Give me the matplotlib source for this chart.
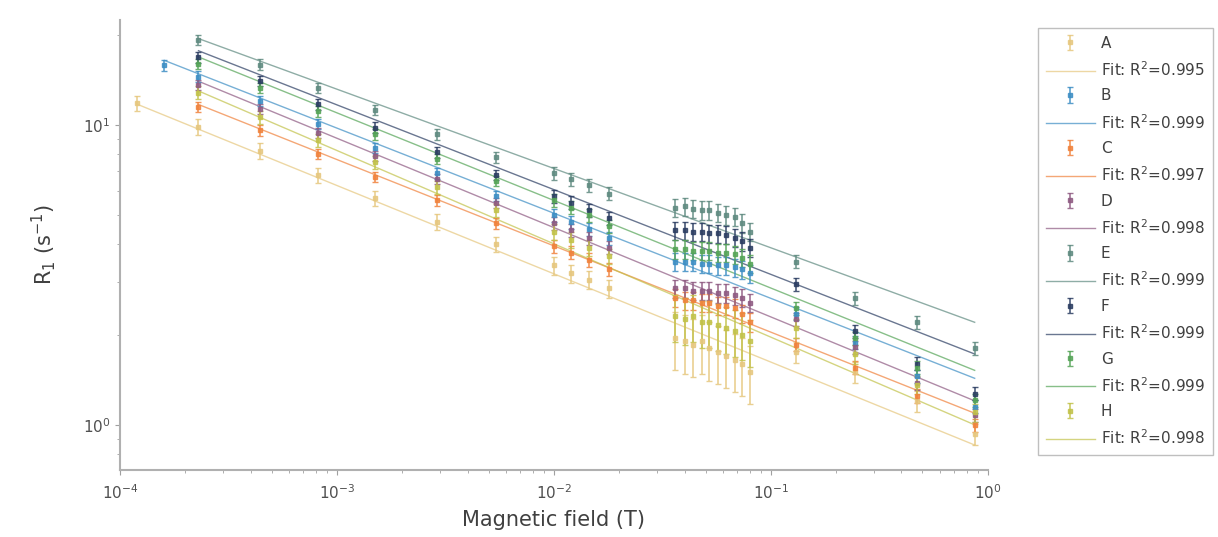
import numpy as np
import matplotlib
matplotlib.use("Agg")
import matplotlib.pyplot as plt

# ---------------- data ----------------
series_names = ["A", "B", "C", "D", "E", "F", "G", "H"]
r2_values = ["0.995", "0.999", "0.997", "0.998", "0.999", "0.999", "0.999", "0.998"]
colors = ["#e6c77e", "#3d8ec4", "#f0823c", "#8e5a82", "#5f8a80", "#2b3d62", "#55a457", "#c2c24a"]

field_lo = [2.3e-4, 4.4e-4, 8.2e-4, 1.5e-3, 2.9e-3, 5.4e-3]
field_mid = [1.0e-2, 1.2e-2, 1.45e-2, 1.8e-2]
field_dense = [0.036, 0.040, 0.044, 0.048, 0.052, 0.057, 0.062, 0.068, 0.074, 0.080]
field_hi = [0.13, 0.245, 0.47, 0.87]

# extra low-field points (series -> (field, value))
extra_field = {"A": 1.2e-4, "B": 1.6e-4}
extra_value = {"A": 11.8, "B": 15.8}

r1_A = [9.85, 8.2, 6.8, 5.7, 4.75, 4.0,
        3.4, 3.2, 3.05, 2.85,
        1.95, 1.9, 1.85, 1.9, 1.8, 1.75, 1.7, 1.65, 1.6, 1.5,
        1.75, 1.5, 1.2, 0.93]
r1_B = [14.5, 12.0, 10.1, 8.4, 6.9, 5.8,
        5.0, 4.75, 4.5, 4.2,
        3.5, 3.5, 3.5, 3.45, 3.45, 3.4, 3.4, 3.35, 3.3, 3.2,
        2.35, 1.88, 1.45, 1.15]
r1_C = [11.5, 9.6, 8.0, 6.7, 5.6, 4.7,
        3.95, 3.75, 3.55, 3.3,
        2.65, 2.6, 2.6, 2.55, 2.55, 2.5, 2.5, 2.45, 2.35, 2.2,
        1.85, 1.55, 1.25, 1.0]
r1_D = [13.6, 11.3, 9.4, 7.9, 6.6, 5.5,
        4.7, 4.45, 4.2, 3.9,
        2.85, 2.85, 2.8, 2.8, 2.8, 2.75, 2.75, 2.7, 2.65, 2.55,
        2.25, 1.82, 1.38, 1.08]
r1_E = [19.2, 15.9, 13.3, 11.2, 9.3, 7.8,
        6.9, 6.6, 6.3, 5.9,
        5.3, 5.35, 5.25, 5.2, 5.2, 5.1, 5.0, 4.95, 4.7, 4.4,
        3.5, 2.65, 2.2, 1.8]
r1_F = [16.8, 14.0, 11.7, 9.8, 8.1, 6.8,
        5.8, 5.5, 5.2, 4.9,
        4.45, 4.45, 4.4, 4.4, 4.35, 4.35, 4.3, 4.2, 4.1, 3.9,
        2.95, 2.05, 1.6, 1.27]
r1_G = [16.0, 13.3, 11.1, 9.3, 7.7, 6.5,
        5.6, 5.3, 5.0, 4.6,
        3.85, 3.85, 3.8, 3.8, 3.8, 3.75, 3.75, 3.7, 3.6, 3.45,
        2.45, 1.95, 1.55, 1.21]
r1_H = [12.8, 10.6, 8.9, 7.5, 6.2, 5.2,
        4.4, 4.15, 3.9, 3.65,
        2.3, 2.25, 2.3, 2.2, 2.2, 2.15, 2.1, 2.05, 2.0, 1.9,
        2.1, 1.72, 1.36, 1.1]

# relative uncertainty per field group (lo, mid, dense, hi)
rel_err_A = [0.06, 0.07, 0.22, 0.08]
rel_err_other = [0.04, 0.05, 0.07, 0.05]
rel_err_H = [0.05, 0.06, 0.18, 0.07]

values = {"A": r1_A, "B": r1_B, "C": r1_C, "D": r1_D,
          "E": r1_E, "F": r1_F, "G": r1_G, "H": r1_H}

# ---------------- plot ----------------
fig = plt.figure(figsize=(12.18, 5.37), dpi=100)
ax = fig.add_axes([0.0985, 0.125, 0.7125, 0.838])

fields_all = field_lo + field_mid + field_dense + field_hi
group_sizes = [len(field_lo), len(field_mid), len(field_dense), len(field_hi)]

handles = []
labels = []
for name, r2, col in zip(series_names, r2_values, colors):
    x = list(fields_all)
    y = list(values[name])
    if name == "A":
        rel = rel_err_A
    elif name == "H":
        rel = rel_err_H
    else:
        rel = rel_err_other
    rel_list = []
    for g, n in zip(rel, group_sizes):
        rel_list += [g] * n
    if name in extra_field:
        x = [extra_field[name]] + x
        y = [extra_value[name]] + y
        rel_list = [rel[0]] + rel_list
    x = np.array(x)
    y = np.array(y)
    yerr = y * np.array(rel_list)

    eb = ax.errorbar(x, y, yerr=yerr, fmt="s", ms=3.2, color=col,
                     mfc=col, mec=col, ecolor=col, elinewidth=1.2,
                     capsize=2, capthick=1, alpha=0.85, zorder=3)
    # power-law fit in log space
    p = np.polyfit(np.log10(x), np.log10(y), 1)
    xf = np.array([x.min(), x.max()])
    yf = 10 ** np.polyval(p, np.log10(xf))
    ln, = ax.plot(xf, yf, "-", color=col, lw=1.0, alpha=0.7, zorder=2)
    handles += [eb, ln]
    labels += [name, "Fit: R$^2$=" + r2]

ax.set_xscale("log")
ax.set_yscale("log")
ax.set_xlim(1e-4, 1.0)
ax.set_ylim(0.708, 22.4)

for s in ["top", "right"]:
    ax.spines[s].set_visible(False)
for s in ["left", "bottom"]:
    ax.spines[s].set_color("#b0b0b0")
    ax.spines[s].set_linewidth(1.5)
ax.tick_params(which="both", colors="#a0a0a0", labelcolor="#505050", labelsize=11)
ax.tick_params(axis="x", pad=6)

ax.set_xlabel("Magnetic field (T)", fontsize=15, color="#404040", labelpad=6)
ax.set_ylabel("R$_1$ (s$^{-1}$)", fontsize=15, color="#404040", labelpad=18)

leg = fig.legend(handles, labels, loc="upper left", bbox_to_anchor=(0.846, 0.962),
                 fontsize=11, frameon=True, fancybox=False, edgecolor="#b0b0b0",
                 handlelength=3.2, labelspacing=0.62, borderpad=0.5, handletextpad=0.4)
for t in leg.get_texts():
    t.set_color("#404040")

fig.savefig("out.png", dpi=100)
